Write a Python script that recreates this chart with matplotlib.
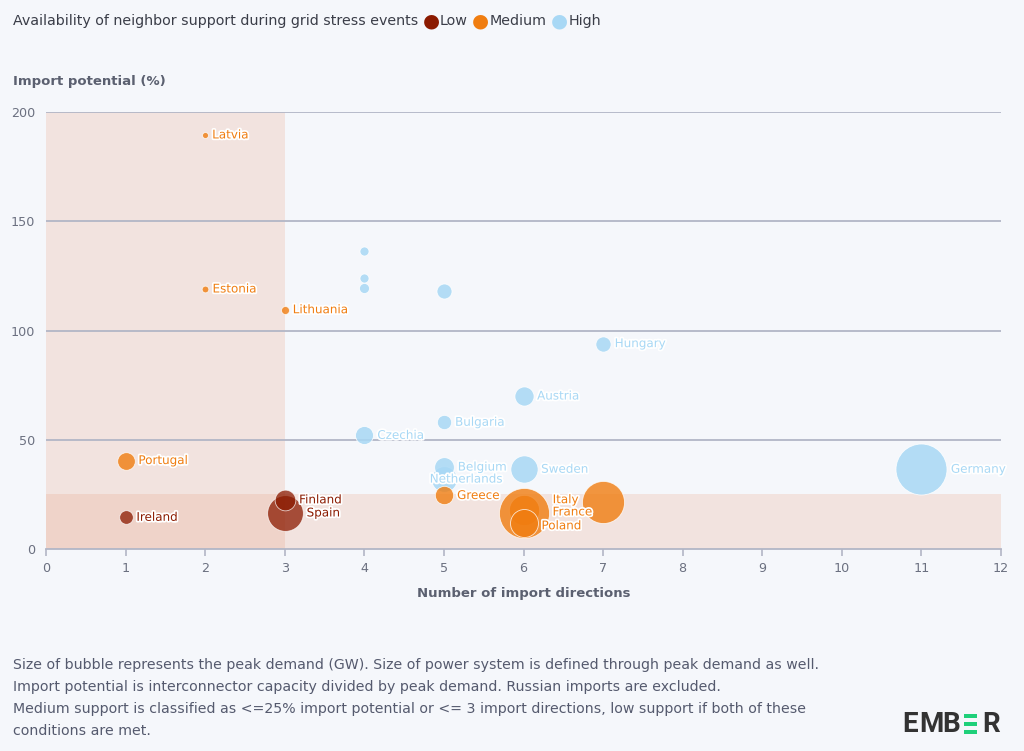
import numpy as np
import matplotlib.pyplot as plt
import matplotlib.patheffects as pe
from matplotlib.patches import Rectangle

# ---- data (drawing order = list order within a level) ----
countries = ['Latvia', 'Estonia', 'Lithuania', '', '', '', '', 'Hungary', 'Austria',
             'Bulgaria', 'Czechia', 'Portugal', 'Netherlands', 'Belgium', 'Sweden',
             'Germany', 'Greece', 'Spain', 'Finland', 'Ireland', 'Italy', 'France',
             'Poland', '']
directions = [2, 2, 3, 4, 4, 4, 5, 7, 6, 5, 4, 1, 5, 5, 6, 11, 5, 3, 3, 1, 6, 6, 6, 7]
import_pct = [189.5, 119, 109.5, 136.5, 124, 119.5, 118, 94, 70, 58, 52, 40.5, 32, 37.5,
              36.5, 36.5, 24.5, 16.5, 22.5, 14.5, 18, 16.5, 12, 21.5]
peak_gw = [1.2, 1.5, 2.1, 2.7, 2.7, 3.3, 7.4, 7.6, 12, 6.7, 10.6, 10.2, 21.5, 12.7,
           24.3, 85, 11, 41.8, 14, 6.1, 30, 82, 25.6, 58]
support = ['Medium', 'Medium', 'Medium', 'High', 'High', 'High', 'High', 'High', 'High',
           'High', 'High', 'Medium', 'High', 'High', 'High', 'High', 'Medium', 'Low',
           'Low', 'Low', 'Medium', 'Medium', 'Medium', 'Medium']

levels = ['Low', 'Medium', 'High']
colors = {'Low': '#8b1a00', 'Medium': '#f07d10', 'High': '#a8d8f5'}
bubble_alpha = {'Low': 0.75, 'Medium': 0.8, 'High': 0.85}

# threshold zones
x_thresh = 3
y_thresh = 25

# label nudges (dx, dy) in pixels where labels were moved to avoid overlap
label_nudge = {'Netherlands': (-31, 0), 'Italy': (10, 10), 'France': (0, 1),
               'Poland': (0, -3)}

bg = '#f5f7fb'
plt.rcParams['font.family'] = ['DejaVu Sans']

fig = plt.figure(figsize=(10.24, 7.51), dpi=100, facecolor=bg)
ax = fig.add_axes([46 / 1024, 1 - 549 / 751, 955 / 1024, 437 / 751])
ax.set_facecolor(bg)

ax.set_xlim(0, 12)
ax.set_ylim(0, 200)

# shaded regions
ax.add_patch(Rectangle((0, 0), x_thresh, 200, color='#e69673', alpha=0.2, lw=0, zorder=0))
ax.add_patch(Rectangle((0, 0), 12, y_thresh, color='#e69673', alpha=0.2, lw=0, zorder=0))

# grid
for yv in [50, 100, 150, 200]:
    ax.axhline(yv, color='#b2b6c6', lw=1.3, zorder=1)
for s in ['top', 'right', 'left']:
    ax.spines[s].set_visible(False)
ax.spines['bottom'].set_color('#b2b6c6')
ax.spines['bottom'].set_linewidth(1.3)

ax.set_xticks(range(0, 13))
ax.set_yticks([0, 50, 100, 150, 200])
ax.tick_params(axis='x', colors='#b2b6c6', labelcolor='#6b7080', labelsize=9.2,
               length=5, width=1.2, pad=4)
ax.tick_params(axis='y', length=0, labelcolor='#6b7080', labelsize=9.2, pad=8)
ax.set_xlabel('Number of import directions', fontsize=9.5, fontweight='bold',
              color='#5b6070', labelpad=9)

# bubble size: area scaled between min and max diameter (pixels)
z = np.array(peak_gw)
dmin, dmax = 6.0, 51.0
d_px = np.sqrt(dmin ** 2 + (z - z.min()) / (z.max() - z.min()) * (dmax ** 2 - dmin ** 2))
d_pt = d_px * 0.72

for lev in ['High', 'Medium', 'Low']:
    idx = [i for i in range(len(countries)) if support[i] == lev]
    for i in idx:
        ax.scatter(directions[i], import_pct[i], s=d_pt[i] ** 2, color=colors[lev],
                   alpha=bubble_alpha[lev], edgecolors='white', linewidths=0.6, zorder=3)

for i, name in enumerate(countries):
    if not name:
        continue
    dx, dy = label_nudge.get(name, (0, 0))
    off = (d_px[i] / 2 + 4 + dx) * 0.72
    ax.annotate(name, (directions[i], import_pct[i]), xytext=(off, dy * 0.72),
                textcoords='offset points', ha='left', va='center', fontsize=8.6,
                color=colors[support[i]], zorder=5,
                path_effects=[pe.withStroke(linewidth=2.5, foreground='white')])

# y axis title
fig.text(13 / 1024, 1 - 82 / 751, 'Import potential (%)', fontsize=9.5, fontweight='bold',
         color='#5b6070', va='center', ha='left')

# legend line at top
t = fig.text(13 / 1024, 1 - 21 / 751, 'Availability of neighbor support during grid stress events',
             fontsize=10.3, color='#3a3d48', va='center', ha='left')
prev = t
for lev in levels:
    dot = ax.annotate('\u25cf', xy=(1, 0.5), xycoords=prev, xytext=(3, 0),
                      textcoords='offset points', fontsize=14, color=colors[lev],
                      va='center', ha='left')
    prev = ax.annotate(lev, xy=(1, 0.5), xycoords=dot, xytext=(0.5, 0),
                       textcoords='offset points', fontsize=10.3, color='#3a3d48',
                       va='center', ha='left')

# footnotes
notes = ['Size of bubble represents the peak demand (GW). Size of power system is defined through peak demand as well.',
         'Import potential is interconnector capacity divided by peak demand. Russian imports are excluded.',
         'Medium support is classified as <=25% import potential or <= 3 import directions, low support if both of these',
         'conditions are met.']
for k, line in enumerate(notes):
    fig.text(13 / 1024, 1 - (665 + k * 22) / 751, line, fontsize=10.2, color='#555a6e',
             va='center', ha='left')

# logo
logo_y = 1 - 724 / 751
for ch, xp in [('E', 910), ('M', 931), ('B', 951), ('R', 991)]:
    fig.text(xp / 1024, logo_y, ch, fontsize=20, fontweight='bold', color='#333333',
             ha='center', va='center', family='Roboto')
for yb in [714, 722, 730]:
    fig.patches.append(Rectangle((964 / 1024, 1 - (yb + 3.5) / 751), 13 / 1024, 3.5 / 751,
                                 transform=fig.transFigure, color='#1fd07a', lw=0))

fig.savefig('out.png', dpi=100, facecolor=bg)
